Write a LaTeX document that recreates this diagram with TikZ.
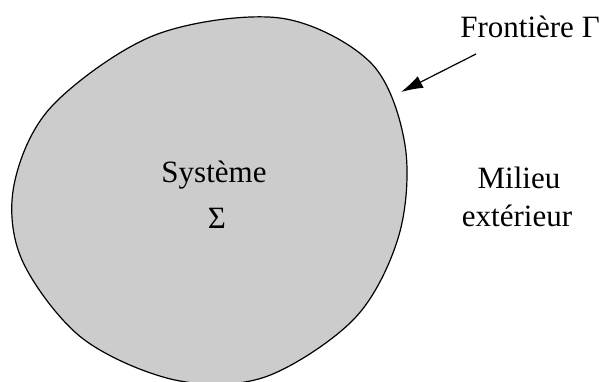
\documentclass[tikz,border=0pt]{standalone}
\usepackage{fontspec}
\setmainfont{Liberation Serif}
\usepackage{xcolor}
\usepackage{tikz}
\usetikzlibrary{positioning, arrows.meta}

\begin{document}
\begin{tikzpicture}[x=0.5pt, y=-0.5pt,
    lbl/.style={font=\fontsize{15.5}{19}\selectfont, inner sep=0pt},
    zone/.style={draw=black, fill=black!20, line width=0.6pt}]
        \useasboundingbox (0,0) rectangle (608,381);

        % Domain of the system
        \draw[zone] plot[smooth cycle, tension=0.55] coordinates {
          (280,18) (371,63) (405,145) (399,235) (355,318) (265,377)
          (175,380) (82,338) (22,260) (14,185) (52,106) (155,35)};

        \node[lbl, anchor=base] (systeme) at (214,182) {Système};
        \node[lbl, anchor=base] (sigma) at (217,228) {Σ};

        % Outside
        \node[lbl, anchor=base] (milieu) at (519,188) {Milieu};
        \node[lbl, anchor=base] (exterieur) at (517,226) {extérieur};

        % Boundary label and arrow
        \node[lbl, anchor=base] (frontiere) at (530,37) {Frontière Γ};
        \coordinate (gtail) at (476,54);
        \coordinate (gtip) at (401,92);
        \draw[-{Latex[length=11pt, width=6.5pt]}, line width=0.6pt] (gtail) -- (gtip);
      \end{tikzpicture}
\end{document}
